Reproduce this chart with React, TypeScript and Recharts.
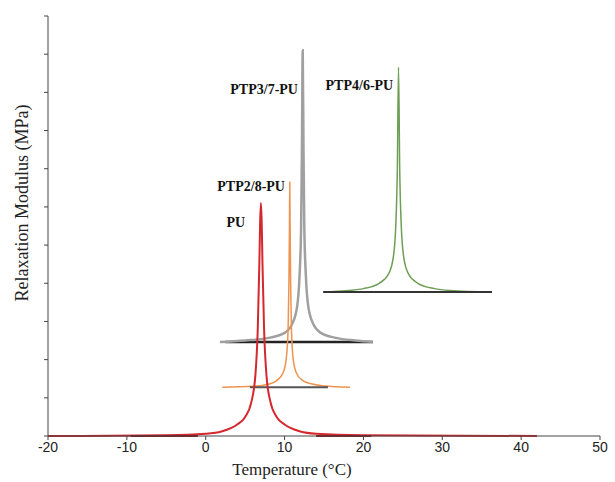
import React from "react";
import { LineChart, Line, XAxis, YAxis, ReferenceDot } from "recharts";

const xTicks = [-20, -10, 0, 10, 20, 30, 40, 50];
const yTicks = [0, 1, 2, 3, 4, 5, 6, 7, 8, 9, 10, 11];

const puCurve = [
  { t: -20, v: 0 }, { t: -5, v: 0.02 }, { t: 0, v: 0.06 }, { t: 2, v: 0.12 },
  { t: 4, v: 0.3 }, { t: 5, v: 0.5 }, { t: 5.8, v: 0.9 }, { t: 6.3, v: 1.6 },
  { t: 6.6, v: 2.8 }, { t: 6.8, v: 4.5 }, { t: 6.9, v: 5.6 }, { t: 7.0, v: 6.1 },
  { t: 7.1, v: 5.6 }, { t: 7.2, v: 4.5 }, { t: 7.4, v: 2.8 }, { t: 7.7, v: 1.6 },
  { t: 8.2, v: 0.9 }, { t: 9, v: 0.5 }, { t: 10, v: 0.3 }, { t: 12, v: 0.12 },
  { t: 14, v: 0.06 }, { t: 20, v: 0.02 }, { t: 42, v: 0 },
];
const puBase = [{ t: -9.5, v: 0 }, { t: -1, v: 0 }];
const puBase2 = [{ t: 14, v: 0 }, { t: 21, v: 0 }];

const ptp28Curve = [
  { t: 2.1, v: 1.28 }, { t: 6, v: 1.3 }, { t: 8, v: 1.36 }, { t: 9, v: 1.45 },
  { t: 9.8, v: 1.65 }, { t: 10.2, v: 2.0 }, { t: 10.45, v: 2.8 }, { t: 10.55, v: 4 },
  { t: 10.62, v: 5.5 }, { t: 10.66, v: 6.65 }, { t: 10.7, v: 5.5 }, { t: 10.77, v: 4 },
  { t: 10.87, v: 2.8 }, { t: 11.1, v: 2.0 }, { t: 11.5, v: 1.65 }, { t: 12.3, v: 1.45 },
  { t: 13.5, v: 1.36 }, { t: 15, v: 1.31 }, { t: 18.3, v: 1.28 },
];
const ptp28Base = [{ t: 5.6, v: 1.28 }, { t: 15.5, v: 1.28 }];

const ptp37Curve = [
  { t: 1.8, v: 2.46 }, { t: 5, v: 2.5 }, { t: 8, v: 2.57 }, { t: 10, v: 2.7 },
  { t: 11, v: 2.95 }, { t: 11.6, v: 3.4 }, { t: 11.9, v: 4.2 }, { t: 12.1, v: 5.5 },
  { t: 12.2, v: 7.5 }, { t: 12.3, v: 10.1 }, { t: 12.4, v: 7.5 }, { t: 12.5, v: 5.5 },
  { t: 12.7, v: 4.2 }, { t: 13.0, v: 3.4 }, { t: 13.6, v: 2.95 }, { t: 14.6, v: 2.7 },
  { t: 16.5, v: 2.57 }, { t: 19, v: 2.5 }, { t: 21.2, v: 2.46 },
];
const ptp37Base = [{ t: 2.5, v: 2.46 }, { t: 21.2, v: 2.46 }];

const ptp46Curve = [
  { t: 14.9, v: 3.77 }, { t: 18, v: 3.81 }, { t: 20, v: 3.86 }, { t: 22, v: 4.0 },
  { t: 23.2, v: 4.25 }, { t: 23.8, v: 4.7 }, { t: 24.1, v: 5.5 }, { t: 24.3, v: 7.0 },
  { t: 24.45, v: 9.66 }, { t: 24.6, v: 7.0 }, { t: 24.8, v: 5.5 }, { t: 25.1, v: 4.7 },
  { t: 25.7, v: 4.25 }, { t: 26.9, v: 4.0 }, { t: 29, v: 3.86 }, { t: 31, v: 3.81 },
  { t: 36.3, v: 3.77 },
];
const ptp46Base = [{ t: 14.9, v: 3.77 }, { t: 36.3, v: 3.77 }];

const curveLabels = [
  { name: "PU", t: 5.0, v: 5.6, side: "left" },
  { name: "PTP2/8-PU", t: 10.05, v: 6.55, side: "left" },
  { name: "PTP3/7-PU", t: 11.7, v: 9.1, side: "left" },
  { name: "PTP4/6-PU", t: 15.2, v: 9.2, side: "right" },
];

const serif = "'Liberation Serif', 'Times New Roman', serif";
const sans = "'Liberation Sans', Arial, sans-serif";

export default function App() {
  return (
    <div style={{ position: "absolute", left: 0, top: 0, width: 615, height: 482, background: "#fff" }}>
      <LineChart width={615} height={482} margin={{ top: 16, right: 15, bottom: 0, left: 28 }}>
        <XAxis
          dataKey="t"
          type="number"
          domain={[-20, 50]}
          ticks={xTicks}
          allowDataOverflow
          height={46}
          stroke="#444"
          tickSize={4}
          tick={{ fill: "#222", fontSize: 14, fontFamily: sans }}
        />
        <YAxis
          type="number"
          domain={[0, 11]}
          ticks={yTicks}
          width={20}
          stroke="#444"
          tickSize={4}
          tickFormatter={() => ""}
        />
        <Line data={ptp46Curve} dataKey="v" type="monotone" stroke="#6f9e55" strokeWidth={1.5} dot={false} isAnimationActive={false} />
        <Line data={ptp46Base} dataKey="v" type="linear" stroke="#333" strokeWidth={2} dot={false} isAnimationActive={false} />
        <Line data={ptp37Base} dataKey="v" type="linear" stroke="#222" strokeWidth={2.5} dot={false} isAnimationActive={false} />
        <Line data={ptp37Curve} dataKey="v" type="monotone" stroke="#a0a0a0" strokeWidth={2.5} dot={false} isAnimationActive={false} />
        <Line data={ptp28Curve} dataKey="v" type="monotone" stroke="#ee9350" strokeWidth={1.5} dot={false} isAnimationActive={false} />
        <Line data={ptp28Base} dataKey="v" type="linear" stroke="#555" strokeWidth={2} dot={false} isAnimationActive={false} />
        <Line data={puCurve} dataKey="v" type="monotone" stroke="#d4282e" strokeWidth={2} dot={false} isAnimationActive={false} />
        <Line data={puBase} dataKey="v" type="linear" stroke="#8e1a1e" strokeWidth={2} dot={false} isAnimationActive={false} />
        <Line data={puBase2} dataKey="v" type="linear" stroke="#8e1a1e" strokeWidth={2} dot={false} isAnimationActive={false} />
        {curveLabels.map((l) => (
          <ReferenceDot
            key={l.name}
            x={l.t}
            y={l.v}
            r={0}
            stroke="none"
            label={{
              value: l.name,
              position: l.side === "left" ? "left" : "right",
              offset: 0,
              fill: "#111",
              fontSize: 14,
              fontWeight: 700,
              fontFamily: serif,
            }}
          />
        ))}
      </LineChart>
      <div
        style={{
          position: "absolute",
          left: 0,
          top: 460,
          width: 584,
          textAlign: "center",
          fontFamily: serif,
          fontSize: 17,
          color: "#222",
        }}
      >
        Temperature (°C)
      </div>
      <div
        style={{
          position: "absolute",
          left: 22,
          top: 203,
          transform: "translate(-50%, -50%) rotate(-90deg)",
          whiteSpace: "nowrap",
          fontFamily: serif,
          fontSize: 18,
          color: "#222",
        }}
      >
        Relaxation Modulus (MPa)
      </div>
    </div>
  );
}
